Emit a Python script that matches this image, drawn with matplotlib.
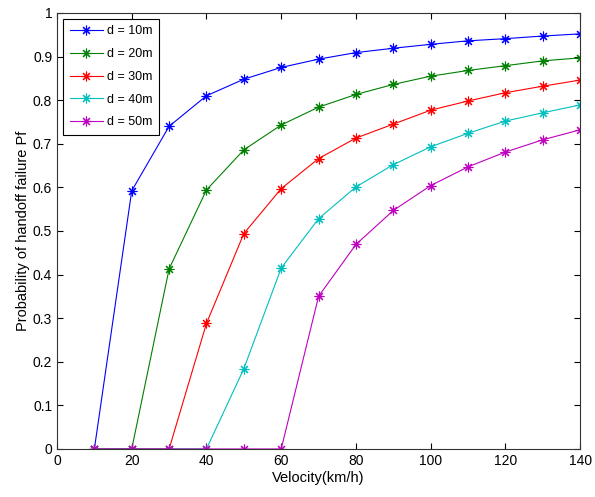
import matplotlib
matplotlib.use("Agg")
import matplotlib.pyplot as plt

velocity = [10, 20, 30, 40, 50, 60, 70, 80, 90, 100, 110, 120, 130, 140]
pf_10 = [0, 0.592, 0.740, 0.810, 0.848, 0.875, 0.894, 0.909, 0.919, 0.928, 0.936, 0.941, 0.947, 0.952]
pf_20 = [0, 0, 0.413, 0.594, 0.686, 0.743, 0.784, 0.813, 0.836, 0.855, 0.868, 0.879, 0.890, 0.897]
pf_30 = [0, 0, 0, 0.288, 0.494, 0.597, 0.666, 0.713, 0.745, 0.777, 0.798, 0.817, 0.832, 0.846]
pf_40 = [0, 0, 0, 0, 0.184, 0.415, 0.528, 0.601, 0.652, 0.693, 0.724, 0.752, 0.771, 0.789]
pf_50 = [0, 0, 0, 0, 0, 0, 0.350, 0.469, 0.547, 0.604, 0.647, 0.681, 0.709, 0.732]
labels = ["d = 10m", "d = 20m", "d = 30m", "d = 40m", "d = 50m"]
colors = [(0, 0, 1), (0, 0.5, 0), (1, 0, 0), (0, 0.75, 0.75), (0.75, 0, 0.75)]

plt.rcParams['font.family'] = ['Liberation Sans', 'DejaVu Sans']

fig = plt.figure(figsize=(5.95, 4.97), dpi=100)
ax = fig.add_axes([0.0958, 0.0966, 0.8792, 0.8774])

for ys, lab, c in zip([pf_10, pf_20, pf_30, pf_40, pf_50], labels, colors):
    ax.plot(velocity, ys, color=c, marker=(8, 2, 0), markersize=7,
            markeredgewidth=0.8, linewidth=0.8, label=lab)

ax.set_xlim(0, 140)
ax.set_ylim(0, 1)
ax.set_xticks(range(0, 141, 20))
ax.set_yticks([i / 10 for i in range(11)])
ax.set_yticklabels(["0", "0.1", "0.2", "0.3", "0.4", "0.5", "0.6", "0.7", "0.8", "0.9", "1"])
ax.tick_params(direction='in', top=True, right=True, labelsize=10, length=4)
for s in ax.spines.values():
    s.set_color('#333333')
ax.set_xlabel("Velocity(km/h)", fontsize=10.5, labelpad=2)
ax.set_ylabel("Probability of handoff failure Pf", fontsize=10.5, labelpad=2)

leg = ax.legend(loc='upper left', fontsize=9, fancybox=False, framealpha=1,
                edgecolor='black', handlelength=2.7, handletextpad=0.3,
                borderaxespad=0.45, labelspacing=0.86, borderpad=0.55)
leg.get_frame().set_linewidth(0.8)

fig.savefig("out.png", dpi=100)
